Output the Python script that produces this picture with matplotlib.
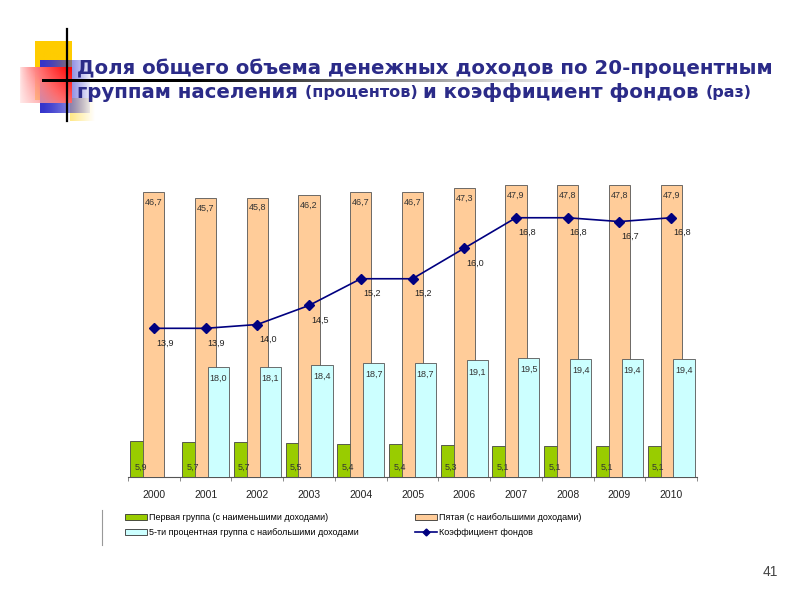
import numpy as np
import matplotlib.pyplot as plt
from matplotlib.patches import Patch
from matplotlib.lines import Line2D

plt.rcParams['font.family'] = ['Liberation Sans', 'DejaVu Sans']

# data
years = ['2000', '2001', '2002', '2003', '2004', '2005',
         '2006', '2007', '2008', '2009', '2010']
first_group = [5.9, 5.7, 5.7, 5.5, 5.4, 5.4, 5.3, 5.1, 5.1, 5.1, 5.1]
fifth_group = [46.7, 45.7, 45.8, 46.2, 46.7, 46.7, 47.3, 47.9, 47.8, 47.8, 47.9]
top5_group = [np.nan, 18.0, 18.1, 18.4, 18.7, 18.7, 19.1, 19.5, 19.4, 19.4, 19.4]
coef = [13.9, 13.9, 14.0, 14.5, 15.2, 15.2, 16.0, 16.8, 16.8, 16.7, 16.8]

lbl_first = 'Первая группа (с наименьшими доходами)'
lbl_fifth = 'Пятая (с наибольшими доходами)'
lbl_top5 = '5-ти процентная группа с наибольшими доходами'
lbl_coef = 'Коэффициент фондов'

c_green = '#99CC00'
c_orange = '#FFCC99'
c_cyan = '#CCFFFF'
c_line = '#000080'
title_col = '#2B2B88'


def fmt(v):
    return f'{v:.1f}'.replace('.', ',')


fig = plt.figure(figsize=(8, 6), dpi=100)

# background decoration (pixel coords)
bg = fig.add_axes([0, 0, 1, 1], zorder=-1)
bg.set_xlim(0, 800)
bg.set_ylim(600, 0)
bg.axis('off')


def grad_rect(x0, x1, y0, y1, rgb_fn, alpha_fn, z):
    h, w = 60, 60
    xx, yy = np.meshgrid(np.linspace(0, 1, w), np.linspace(0, 1, h))
    img = np.zeros((h, w, 4))
    img[..., :3] = rgb_fn(xx, yy)
    img[..., 3] = np.clip(alpha_fn(xx, yy), 0, 1)
    bg.imshow(img, extent=(x0, x1, y1, y0), aspect='auto', zorder=z,
              interpolation='bilinear')


def solid(rgb):
    return lambda x, y: np.array(rgb)[None, None, :] * np.ones(x.shape + (3,))


def red_fn(x, y):
    k = np.clip(x ** 0.7 * (1 - 0.45 * y), 0, 1)   # 1 -> pure red
    out = np.ones(x.shape + (3,))
    out[..., 1] = 0.88 * (1 - k)
    out[..., 2] = 0.88 * (1 - k)
    return out


grad_rect(35, 72, 41, 100, solid((1.0, 0.8, 0.0)), lambda x, y: np.ones_like(x), 1)
grad_rect(70, 95, 98, 121, solid((1.0, 0.85, 0.2)), lambda x, y: 0.6 * (1 - x), 1)
grad_rect(40, 90, 60, 113, solid((0.2, 0.2, 0.8)), lambda x, y: 1 - 0.9 * x ** 1.5, 2)
grad_rect(20, 72, 67, 103, red_fn,
          lambda x, y: np.clip(0.6 + 0.45 * x + 0.3 * (1 - y), 0, 1), 3)
# black lines
bg.plot([67, 67], [29, 121], color='black', lw=1.6, zorder=5)
line_img = np.zeros((1, 200, 4))
t = np.linspace(0, 1, 200)
line_img[..., 3] = np.clip(1.4 - 1.4 * t, 0, 1)
bg.imshow(line_img, extent=(42, 580, 82.5, 79.5), aspect='auto', zorder=5,
          interpolation='bilinear')

# title with mixed sizes
renderer = fig.canvas.get_renderer()


def put_runs(x, y, runs):
    for text, size in runs:
        tt = fig.text(x / 800, 1 - y / 600, text, fontsize=size, fontweight='bold',
                      color=title_col, family='DejaVu Sans', va='center', ha='left',
                      zorder=10)
        bb = tt.get_window_extent(renderer)
        x += bb.width


put_runs(77, 68, [('Доля общего объема денежных доходов по 20-процентным', 14.2)])
put_runs(77, 93, [('группам населения ', 14.2), ('(процентов) ', 11.5),
                  ('и коэффициент фондов ', 14.2), ('(раз)', 11.5)])

# chart
ax = fig.add_axes([128 / 800, 1 - 477 / 600, 569 / 800, 305 / 600])
ax.patch.set_alpha(0)
x = np.arange(len(years))
w = 0.41
step = 0.25
ax.bar(x - step, first_group, w, color=c_green, edgecolor='#444444', lw=0.6, zorder=2)
ax.bar(x, fifth_group, w, color=c_orange, edgecolor='#555555', lw=0.6, zorder=3)
top5 = np.array(top5_group)
m = ~np.isnan(top5)
ax.bar(x[m] + step, top5[m], w, color=c_cyan, edgecolor='#555555', lw=0.6, zorder=4)
ax.set_xlim(-0.5, len(years) - 0.5)
ax.set_ylim(0, 50)

for i in range(len(years)):
    ax.annotate(fmt(first_group[i]), (x[i] - step, 0), xytext=(0, 4),
                textcoords='offset points', ha='center', va='bottom',
                fontsize=6.5, color='#333333', zorder=6)
    ax.annotate(fmt(fifth_group[i]), (x[i], fifth_group[i]), xytext=(0, -4),
                textcoords='offset points', ha='center', va='top',
                fontsize=6.5, color='#333333', zorder=6)
    if m[i]:
        ax.annotate(fmt(top5[i]), (x[i] + step, top5[i]), xytext=(0, -5),
                    textcoords='offset points', ha='center', va='top',
                    fontsize=6.5, color='#333333', zorder=6)

for s in ['top', 'left', 'right']:
    ax.spines[s].set_visible(False)
ax.spines['bottom'].set_color('#555555')
ax.spines['bottom'].set_linewidth(0.8)
ax.set_yticks([])
ax.set_xticks(x)
ax.set_xticklabels(years, fontsize=7.5, color='#222222')
ax.tick_params(axis='x', which='major', length=0, pad=9)
ax.set_xticks(np.arange(-0.5, len(years)), minor=True)
ax.tick_params(axis='x', which='minor', length=3, color='#777777', direction='out')

ax2 = ax.twinx()
ax2.set_ylim(10, 18)
ax2.plot(x, coef, color=c_line, lw=1.2, marker='D', markersize=5, zorder=7)
for i in range(len(years)):
    ax2.annotate(fmt(coef[i]), (x[i], coef[i]), xytext=(1.5, -10.5),
                 textcoords='offset points', ha='left', va='center',
                 fontsize=6.5, color='#222222', zorder=8)
ax2.axis('off')

# legend
bg.plot([102, 102], [510, 545], color='#999999', lw=0.8)
h1 = [Patch(facecolor=c_green, edgecolor='#333333', lw=0.6, label=lbl_first),
      Patch(facecolor=c_cyan, edgecolor='#333333', lw=0.6, label=lbl_top5)]
h2 = [Patch(facecolor=c_orange, edgecolor='#333333', lw=0.6, label=lbl_fifth),
      Line2D([], [], color=c_line, marker='D', markersize=3.5, lw=1.2, label=lbl_coef)]
kw = dict(frameon=False, fontsize=6.5, handlelength=2.4, handleheight=0.55,
          handletextpad=0.3, labelspacing=0.7, borderpad=0, borderaxespad=0,
          loc='upper left')
fig.legend(handles=h1, bbox_to_anchor=(125 / 800, 1 - 513 / 600), **kw)
fig.legend(handles=h2, bbox_to_anchor=(415 / 800, 1 - 513 / 600), **kw)

fig.text(770 / 800, 1 - 572 / 600, '41', fontsize=10, color='#444444',
         ha='center', va='center')

fig.savefig('out.png', dpi=100)
